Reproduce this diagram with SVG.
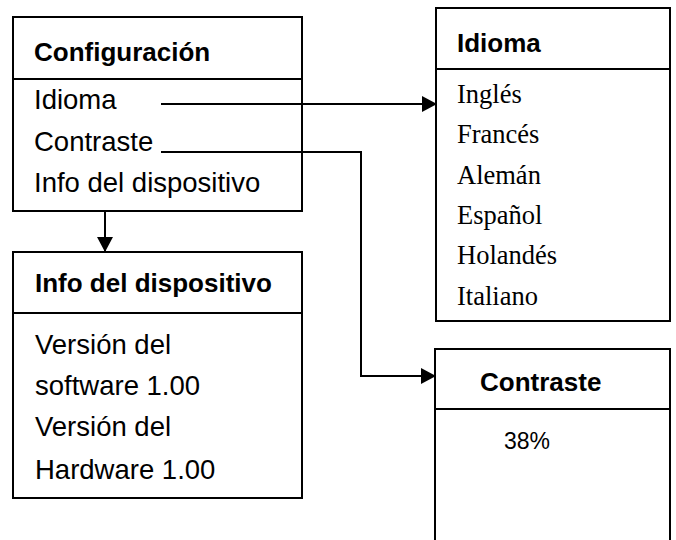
<svg xmlns="http://www.w3.org/2000/svg" width="676" height="540" viewBox="0 0 676 540">
<defs>
<marker id="arr" markerWidth="15" markerHeight="16" refX="15" refY="8" orient="auto" markerUnits="userSpaceOnUse">
<path d="M0,0 L15,8 L0,16 Z" fill="#000"/>
</marker>
<style>
.box{fill:#fff;stroke:#000;stroke-width:2}
.div{stroke:#000;stroke-width:2}
.t{font-family:"Liberation Sans",Arial,sans-serif;font-weight:bold;font-size:26px;fill:#000}
.s{font-family:"Liberation Sans",Arial,sans-serif;font-size:27.5px;fill:#000}
.r{font-family:"Liberation Serif","Times New Roman",serif;font-size:26.5px;fill:#000}
.c{fill:none;stroke:#000;stroke-width:2}
</style>
</defs>
<rect width="676" height="540" fill="#fff"/>
<g id="configuracion">
<rect class="box" x="13" y="17" width="289" height="194"/>
<line class="div" x1="13" y1="79" x2="302" y2="79"/>
<text class="t" x="34" y="61">Configuración</text>
<text class="s" x="34" y="109">Idioma</text>
<text class="s" x="34" y="151">Contraste</text>
<text class="s" x="34" y="192">Info del dispositivo</text>
</g>
<g id="idioma">
<rect class="box" x="436" y="8" width="234" height="313"/>
<line class="div" x1="436" y1="69" x2="670" y2="69"/>
<text class="t" x="457" y="52">Idioma</text>
<text class="r" x="457" y="103">Inglés</text>
<text class="r" x="457" y="143">Francés</text>
<text class="r" x="457" y="184">Alemán</text>
<text class="r" x="457" y="224">Español</text>
<text class="r" x="457" y="264">Holandés</text>
<text class="r" x="457" y="305">Italiano</text>
</g>
<g id="info">
<rect class="box" x="13" y="252" width="289" height="246"/>
<line class="div" x1="13" y1="313" x2="302" y2="313"/>
<text class="t" x="35" y="292">Info del dispositivo</text>
<text class="s" x="35" y="354">Versión del</text>
<text class="s" x="35" y="395">software 1.00</text>
<text class="s" x="35" y="436">Versión del</text>
<text class="s" x="35" y="479">Hardware 1.00</text>
</g>
<g id="contraste">
<rect class="box" x="435" y="349" width="235" height="200"/>
<line class="div" x1="435" y1="409" x2="670" y2="409"/>
<text class="t" x="480" y="391">Contraste</text>
<text class="s" x="504" y="449" style="font-size:23px">38%</text>
</g>
<g id="connectors">
<line class="c" x1="161" y1="104" x2="437" y2="104" marker-end="url(#arr)"/>
<polyline class="c" points="161,152 361,152 361,376 436,376" marker-end="url(#arr)"/>
<line class="c" x1="105" y1="211" x2="105" y2="252" marker-end="url(#arr)"/>
</g>
</svg>
